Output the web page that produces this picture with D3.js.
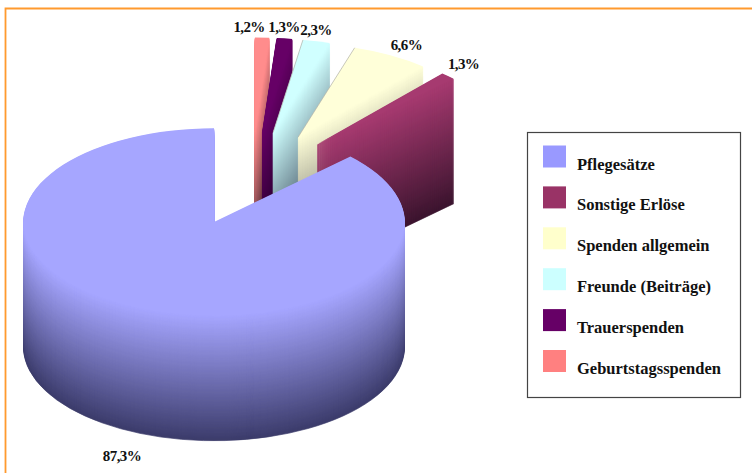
<!DOCTYPE html>
<html>
<head>
<meta charset="utf-8">
<script src="https://cdn.jsdelivr.net/npm/d3@7"></script>
<style>
  html, body { margin: 0; padding: 0; background: #fff; }
  svg { display: block; }
  text { font-family: "Liberation Serif", serif; font-weight: bold; fill: #111; }
</style>
</head>
<body>
<div id="chart"></div>
<script>
// values as labelled in the chart, going counter clockwise from 12 o'clock
const categories = ["Pflegesätze", "Sonstige Erlöse", "Spenden allgemein", "Freunde (Beiträge)", "Trauerspenden", "Geburtstagsspenden"];
const values = [87.3, 1.3, 6.6, 2.3, 1.3, 1.2];
const valueLabels = ["87,3%", "1,3%", "6,6%", "2,3%", "1,3%", "1,2%"];
const legendColors = ["#9999ff", "#993366", "#ffffcc", "#ccffff", "#660066", "#ff8080"];
const faceColors = ["#a6a6ff", "#a63a70", "#ffffd9", "#d0ffff", "#660066", "#ff8c8c"];

const width = 752, height = 473;
const radius = 190.5, tilt = 0.492, depth = 125, explode = 96;
// the big slice's apex sits here, everything else is placed from the pie centre
const apex = { x: 214, y: 222 };
// text nudges from the outer middle of each slice
const labelNudge = [[-18, 153], [15.5, -6.6], [15.5, -5.7], [-0.4, -6.4], [-0.5, -6.5], [-13, -5.6]];

const svg = d3.select("#chart").append("svg")
    .attr("width", width)
    .attr("height", height);

// page frame
svg.append("path")
    .attr("d", "M5.5,473V8.5H752")
    .attr("fill", "none")
    .attr("stroke", "#ff9a2e")
    .attr("stroke-width", 1.8);

const pie = d3.pie().sort(null).startAngle(2 * Math.PI).endAngle(0);
const slices = pie(values).map((d, i) => ({ ...d, i, mid: (d.startAngle + d.endAngle) / 2 }));

const centre = {
    x: apex.x - explode * Math.sin(slices[0].mid),
    y: apex.y + explode * Math.cos(slices[0].mid) * tilt
};
const onPlane = (angle, r) => [
    centre.x + r * Math.sin(angle),
    centre.y - r * Math.cos(angle) * tilt
];

const arc = d3.arc().innerRadius(0).outerRadius(radius);

// back to front, the big slice goes last
const pieG = svg.append("g");
slices.slice().reverse().forEach(d => {
    const [x, y] = onPlane(d.mid, explode);
    const g = pieG.append("g");
    const top = d3.rgb(faceColors[d.i]);
    const shade = d3.scaleLinear()
        .domain([0, depth])
        .range([top, d3.rgb(top.r * 0.36, top.g * 0.36, top.b * 0.42)]);

    // the wall is the top face stacked downwards, one pixel at a time
    d3.range(depth, 0, -1).forEach(h => {
        g.append("path")
            .attr("d", arc(d))
            .attr("transform", `translate(${x},${y + h}) scale(1,${tilt})`)
            .attr("fill", shade(h))
            .attr("stroke", shade(h))
            .attr("stroke-width", 0.7)
            .attr("vector-effect", "non-scaling-stroke");
    });
    g.append("path")
        .attr("d", arc(d))
        .attr("transform", `translate(${x},${y}) scale(1,${tilt})`)
        .attr("fill", faceColors[d.i]);

    // the pale slices have a thin grey line along their left edge
    if (d.i === 2 || d.i === 3) {
        const dx = radius * Math.sin(d.endAngle), dy = -radius * Math.cos(d.endAngle) * tilt;
        g.append("line")
            .attr("x1", x).attr("y1", y)
            .attr("x2", x + dx).attr("y2", y + dy)
            .attr("stroke", "#b0b0a8")
            .attr("stroke-width", 0.7);
    }
});

// value labels
svg.append("g").selectAll("text")
    .data(slices)
    .join("text")
    .attr("text-anchor", "middle")
    .attr("font-size", 15)
    .attr("letter-spacing", -0.6)
    .attr("x", d => onPlane(d.mid, explode + radius)[0] + labelNudge[d.i][0])
    .attr("y", d => onPlane(d.mid, explode + radius)[1] + labelNudge[d.i][1])
    .text(d => valueLabels[d.i]);

// legend
const legendBox = { x: 527, y: 132, w: 213, h: 265 };
svg.append("rect")
    .attr("x", legendBox.x + 0.5)
    .attr("y", legendBox.y + 0.5)
    .attr("width", legendBox.w)
    .attr("height", legendBox.h)
    .attr("fill", "#fff")
    .attr("stroke", "#444")
    .attr("stroke-width", 1.2);

const legendY = d3.scalePoint().domain(categories).range([145.5, 350]);
const legendItem = svg.append("g").selectAll("g")
    .data(categories)
    .join("g")
    .attr("transform", d => `translate(543,${legendY(d)})`);

legendItem.append("rect")
    .attr("width", 23)
    .attr("height", 22)
    .attr("fill", (d, i) => legendColors[i]);

legendItem.append("text")
    .attr("x", 34)
    .attr("y", 24)
    .attr("font-size", 16.5)
    .text(d => d);
</script>
</body>
</html>
